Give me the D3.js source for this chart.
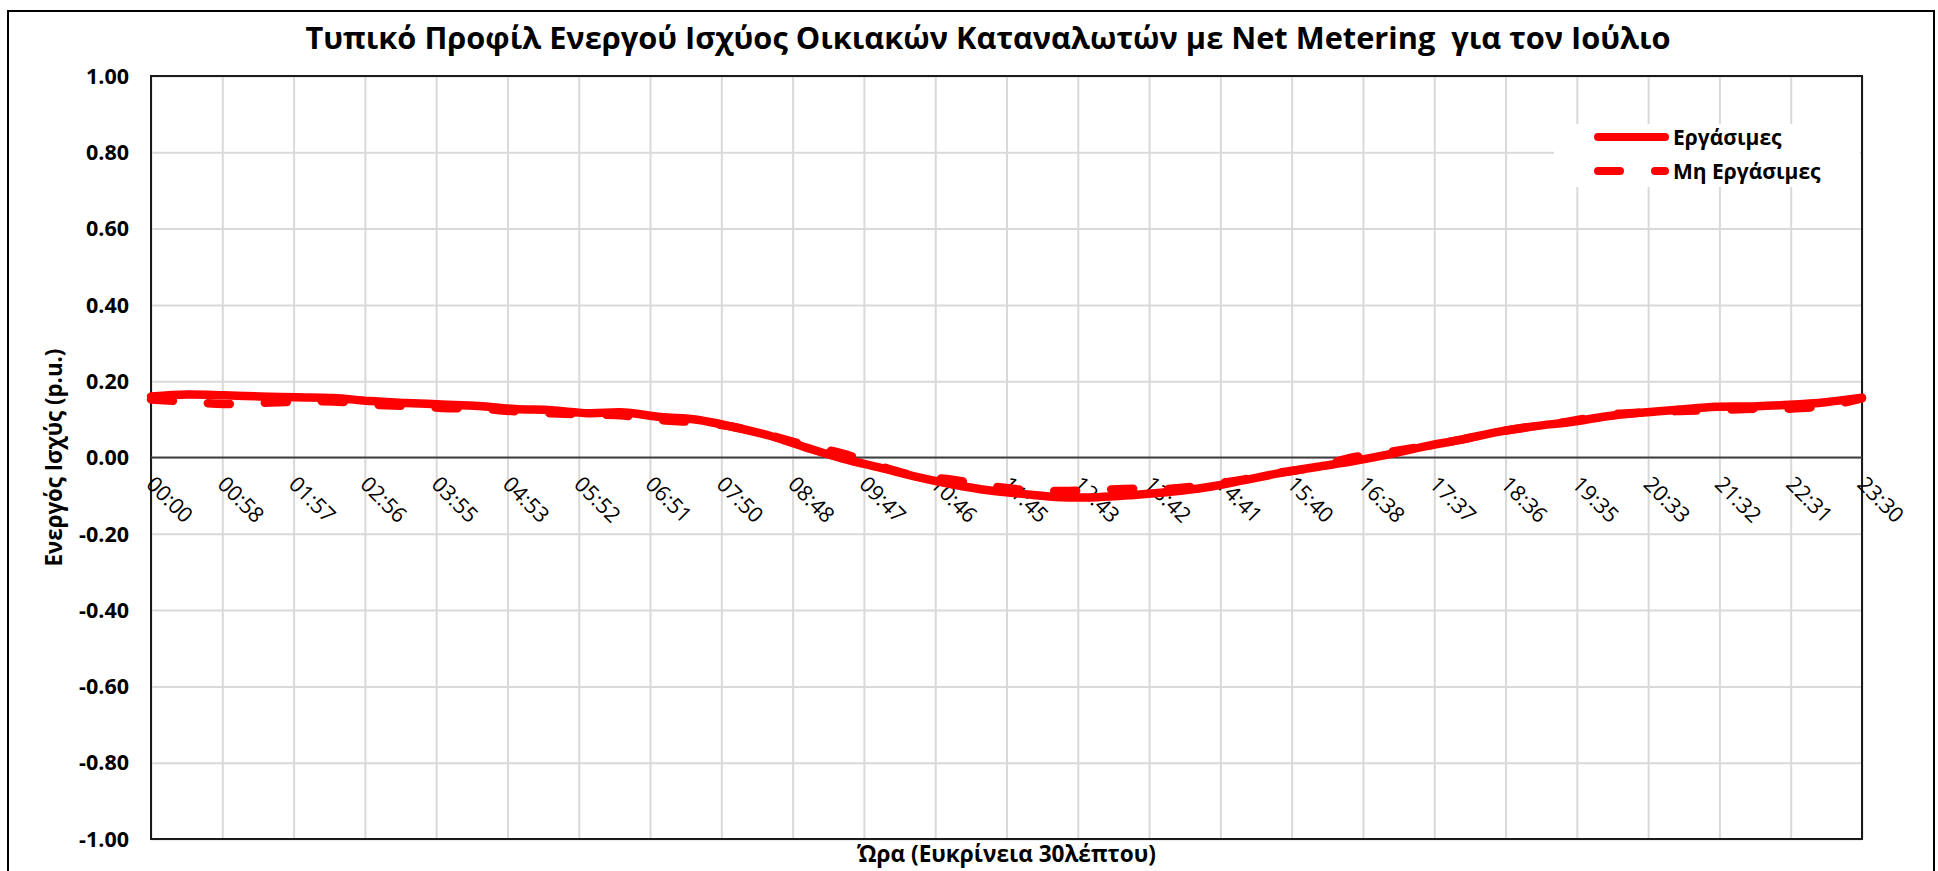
<!DOCTYPE html>
<html>
<head>
<meta charset="utf-8" />
<title>Τυπικό Προφίλ Ενεργού Ισχύος</title>
<style>
  body { margin: 0; background: #fff; }
  text { font-family: 'Open Sans', 'Noto Sans', sans-serif; white-space: pre; }
</style>
</head>
<body>
<script src="https://cdnjs.cloudflare.com/ajax/libs/d3/7.8.5/d3.min.js"></script>
<script>
    // half-hour time stamps
    var times = ['00:00','00:30','01:00','01:30','02:00','02:30','03:00','03:30',
                 '04:00','04:30','05:00','05:30','06:00','06:30','07:00','07:30',
                 '08:00','08:30','09:00','09:30','10:00','10:30','11:00','11:30',
                 '12:00','12:30','13:00','13:30','14:00','14:30','15:00','15:30',
                 '16:00','16:30','17:00','17:30','18:00','18:30','19:00','19:30',
                 '20:00','20:30','21:00','21:30','22:00','22:30','23:00','23:30'];

    // Εργάσιμες (p.u.)
    var workdays = [0.160, 0.165, 0.163, 0.160, 0.158, 0.156, 0.148, 0.143,
                    0.139, 0.135, 0.127, 0.124, 0.116, 0.118, 0.106, 0.099,
                    0.080, 0.057, 0.026, -0.003, -0.026, -0.050, -0.070, -0.086,
                    -0.096, -0.104, -0.104, -0.098, -0.090, -0.078, -0.060, -0.041,
                    -0.025, -0.010, 0.008, 0.029, 0.047, 0.067, 0.082, 0.093,
                    0.108, 0.118, 0.126, 0.133, 0.134, 0.138, 0.145, 0.157];

    // Μη Εργάσιμες (p.u.)
    var holidays = [0.152, 0.146, 0.140, 0.143, 0.146, 0.147, 0.139, 0.135,
                    0.130, 0.128, 0.121, 0.116, 0.113, 0.110, 0.098, 0.092,
                    0.080, 0.058, 0.032, 0.010, -0.022, -0.048, -0.058, -0.074,
                    -0.085, -0.088, -0.085, -0.082, -0.082, -0.072, -0.058, -0.040,
                    -0.025, 0.000, 0.014, 0.030, 0.047, 0.067, 0.082, 0.095,
                    0.112, 0.118, 0.122, 0.124, 0.128, 0.128, 0.135, 0.155];

    var xTickLabels = ['00:00','00:58','01:57','02:56','03:55','04:53','05:52','06:51',
                       '07:50','08:48','09:47','10:46','11:45','12:43','13:42','14:41',
                       '15:40','16:38','17:37','18:36','19:35','20:33','21:32','22:31','23:30'];

    var yTicks = [-1, -0.8, -0.6, -0.4, -0.2, 0, 0.2, 0.4, 0.6, 0.8, 1];

    var seriesNames = ['Εργάσιμες', 'Μη Εργάσιμες'];

    var width = 1938,
        height = 871;

    var svg = d3.select('body').append('svg')
                .attr('width', width)
                .attr('height', height);

    function toMin(s) { var p = s.split(':'); return +p[0] * 60 + +p[1]; }

    var tMax = toMin(times[times.length - 1]);

    var x = d3.scaleLinear().domain([0, tMax]).range([151, 1862]);
    var y = d3.scaleLinear().domain([-1, 1]).range([839, 76]);

    // fit a text element to a given width
    function fit(sel, w) {
        var fs = parseFloat(sel.attr('font-size'));
        var len = sel.node().getComputedTextLength();
        sel.attr('font-size', fs * w / len);
    }

    // outer chart border
    svg.append('rect')
        .attr('x', 8).attr('y', 11)
        .attr('width', 1926).attr('height', 900)
        .attr('fill', '#fff')
        .attr('stroke', '#000')
        .attr('stroke-width', 2);

    // title
    var title = svg.append('text')
        .attr('x', 988).attr('y', 49)
        .attr('text-anchor', 'middle')
        .attr('font-size', 27)
        .attr('font-weight', 'bold')
        .text('Τυπικό Προφίλ Ενεργού Ισχύος Οικιακών Καταναλωτών με Net Metering  για τον Ιούλιο');
    fit(title, 1366);

    // grid
    var xTickVals = xTickLabels.map(function(d, i) { return i * tMax / (xTickLabels.length - 1); });

    svg.append('g')
        .attr('transform', 'translate(0,' + y(-1) + ')')
        .call(d3.axisBottom(x).tickValues(xTickVals).tickSize(-(y(-1) - y(1))).tickFormat(''))
        .call(function(g) {
            g.select('.domain').remove();
            g.selectAll('line').attr('stroke', '#d9d9d9').attr('stroke-width', 2);
        });

    svg.append('g')
        .attr('transform', 'translate(' + x(0) + ',0)')
        .call(d3.axisLeft(y).tickValues(yTicks).tickSize(-(x(tMax) - x(0))).tickFormat(''))
        .call(function(g) {
            g.select('.domain').remove();
            g.selectAll('line').attr('stroke', '#d9d9d9').attr('stroke-width', 2);
        });

    // y tick labels (plain hyphen minus, as in the original)
    svg.append('g').selectAll('text')
        .data(yTicks)
      .enter().append('text')
        .attr('x', 129)
        .attr('y', function(d) { return y(d); })
        .attr('dy', '0.36em')
        .attr('text-anchor', 'end')
        .attr('font-size', 21.5)
        .attr('font-weight', 'bold')
        .text(function(d) { return d.toFixed(2); });

    // legend box
    svg.append('rect')
        .attr('x', 1554).attr('y', 124)
        .attr('width', 306).attr('height', 63)
        .attr('fill', '#fff');

    // plot frame
    svg.append('rect')
        .attr('x', x(0)).attr('y', y(1))
        .attr('width', x(tMax) - x(0)).attr('height', y(-1) - y(1))
        .attr('fill', 'none')
        .attr('stroke', '#1a1a1a')
        .attr('stroke-width', 2);

    // zero line
    svg.append('line')
        .attr('x1', x(0)).attr('x2', x(tMax))
        .attr('y1', y(0)).attr('y2', y(0))
        .attr('stroke', '#404040')
        .attr('stroke-width', 2);

    // x tick labels, rotated
    svg.append('g').selectAll('text')
        .data(xTickLabels)
      .enter().append('text')
        .attr('transform', function(d, i) {
            return 'translate(' + (x(xTickVals[i]) - 6) + ',' + (y(0) + 28) + ') rotate(45)';
        })
        .attr('font-size', 21.5)
        .attr('fill', '#000')
        .text(function(d) { return d; });

    // lines
    var line = d3.line()
        .x(function(d, i) { return x(toMin(times[i])); })
        .y(function(d) { return y(d); })
        .curve(d3.curveCatmullRom.alpha(0.5));

    svg.append('path')
        .attr('d', line(workdays))
        .attr('fill', 'none')
        .attr('stroke', '#ff0000')
        .attr('stroke-width', 8.5)
        .attr('stroke-linecap', 'round')
        .attr('stroke-linejoin', 'round');

    svg.append('path')
        .attr('d', line(holidays))
        .attr('fill', 'none')
        .attr('stroke', '#ff0000')
        .attr('stroke-width', 8.5)
        .attr('stroke-linecap', 'round')
        .attr('stroke-linejoin', 'round')
        .attr('stroke-dasharray', '22,35');

    // legend
    var legend = svg.append('g');
    seriesNames.forEach(function(name, i) {
        var ly = 137 + i * 34;
        legend.append('line')
            .attr('x1', 1598).attr('x2', 1665)
            .attr('y1', ly).attr('y2', ly)
            .attr('stroke', '#ff0000')
            .attr('stroke-width', 8)
            .attr('stroke-linecap', 'round')
            .attr('stroke-dasharray', i === 0 ? null : '22,35');
        legend.append('text')
            .attr('x', 1673).attr('y', ly)
            .attr('dy', '0.36em')
            .attr('font-size', 21)
            .attr('font-weight', 'bold')
            .text(name);
    });

    // axis titles
    var yTitle = svg.append('text')
        .attr('transform', 'translate(62,' + y(0) + ') rotate(-90)')
        .attr('text-anchor', 'middle')
        .attr('font-size', 19)
        .attr('font-weight', 'bold')
        .text('Ενεργός Ισχύς (p.u.)');
    fit(yTitle, 218);

    var xTitle = svg.append('text')
        .attr('x', (x(0) + x(tMax)) / 2)
        .attr('y', 862)
        .attr('text-anchor', 'middle')
        .attr('font-size', 19)
        .attr('font-weight', 'bold')
        .text('Ώρα (Ευκρίνεια 30λέπτου)');
    fit(xTitle, 299);
</script>
</body>
</html>
